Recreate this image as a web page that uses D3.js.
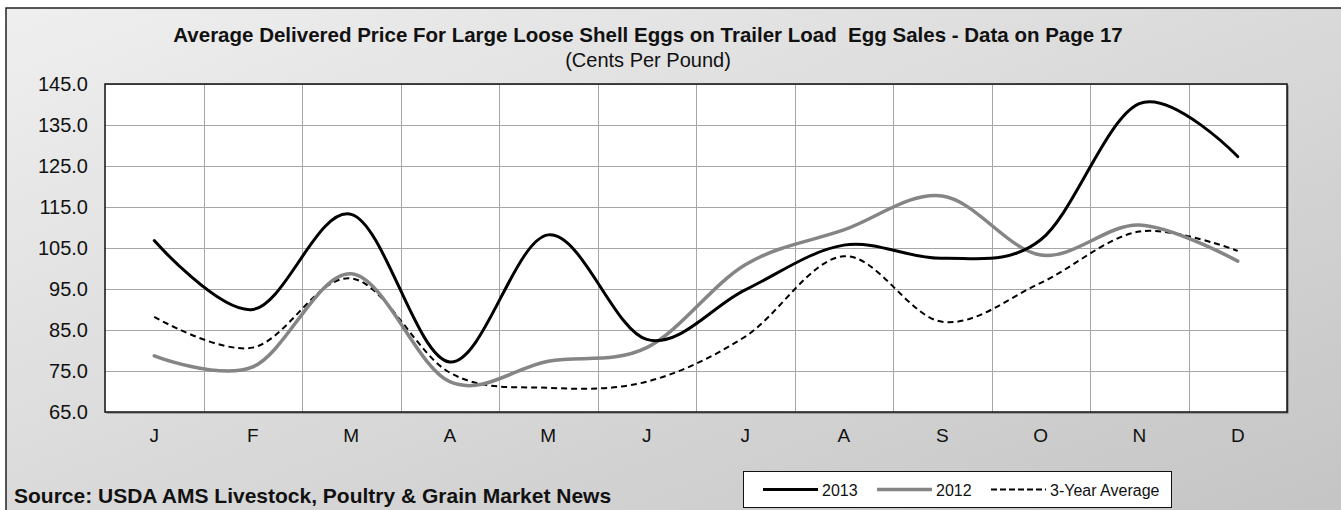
<!DOCTYPE html>
<html>
<head>
<meta charset="utf-8" />
<title>Average Delivered Price - Large Loose Shell Eggs</title>
<script src="https://cdnjs.cloudflare.com/ajax/libs/d3/7.8.5/d3.min.js"></script>
<style>
  html, body { margin: 0; padding: 0; background: #fff; }
  svg { display: block; font-family: Arial, "Liberation Sans", sans-serif; }
</style>
</head>
<body>
<svg id="chart" width="1341" height="510"></svg>
<script>
// month letters (J, M, A repeat so the band scale uses the index)
var months = ["J", "F", "M", "A", "M", "J", "J", "A", "S", "O", "N", "D"];
var y2013 = [106.8, 90.0, 113.2, 77.2, 108.2, 82.7, 94.8, 105.7, 102.5, 107.0, 140.2, 127.3];
var y2012 = [78.7, 76.0, 98.7, 72.4, 77.4, 80.7, 100.9, 109.4, 117.7, 103.3, 110.6, 101.8];
var avg3yr = [88.2, 80.7, 97.6, 74.6, 70.9, 72.4, 83.4, 103.0, 87.0, 96.5, 109.0, 104.3];
var yTicks = [65, 75, 85, 95, 105, 115, 125, 135, 145];
var seriesNames = ["2013", "2012", "3-Year Average"];

var FONT = "Arial, 'Liberation Sans', sans-serif";
var svg = d3.select("#chart");

// chart area background, light grey gradient
var defs = svg.append("defs");
var grad = defs.append("linearGradient").attr("id", "bg")
    .attr("x1", "0%").attr("y1", "0%").attr("x2", "100%").attr("y2", "100%");
grad.append("stop").attr("offset", "0%").attr("stop-color", "#efefef");
grad.append("stop").attr("offset", "100%").attr("stop-color", "#c4c4c4");

svg.append("rect").attr("x", 6).attr("y", 8).attr("width", 1345).attr("height", 512)
    .attr("fill", "url(#bg)").attr("stroke", "#222").attr("stroke-width", 1.5);

var plot = { left: 105, right: 1287, top: 84, bottom: 412 };

var x = d3.scaleBand().domain(d3.range(months.length)).range([plot.left, plot.right]);
var y = d3.scaleLinear().domain([65, 145]).range([plot.bottom, plot.top]);

// plot shadow + white area
svg.append("rect").attr("x", plot.left + 1.5).attr("y", plot.top + 1.5)
    .attr("width", plot.right - plot.left).attr("height", plot.bottom - plot.top)
    .attr("fill", "#6a6a6a");
svg.append("rect").attr("x", plot.left).attr("y", plot.top)
    .attr("width", plot.right - plot.left).attr("height", plot.bottom - plot.top)
    .attr("fill", "#fff");

// horizontal gridlines
svg.append("g").attr("class", "grid-y")
  .selectAll("line").data(yTicks).enter().append("line")
    .attr("x1", plot.left).attr("x2", plot.right)
    .attr("y1", function(d){ return y(d) + 0.5; })
    .attr("y2", function(d){ return y(d) + 0.5; })
    .attr("stroke", "#a6a6a6").attr("stroke-width", 1);

// vertical gridlines at category boundaries
svg.append("g").attr("class", "grid-x")
  .selectAll("line").data(d3.range(1, months.length)).enter().append("line")
    .attr("x1", function(i){ return Math.round(x(i)) + 0.5; })
    .attr("x2", function(i){ return Math.round(x(i)) + 0.5; })
    .attr("y1", plot.top).attr("y2", plot.bottom)
    .attr("stroke", "#a6a6a6").attr("stroke-width", 1);

// plot border
svg.append("rect").attr("x", plot.left).attr("y", plot.top)
    .attr("width", plot.right - plot.left).attr("height", plot.bottom - plot.top)
    .attr("fill", "none").attr("stroke", "#111").attr("stroke-width", 1.5);

// y axis labels
var yAxis = d3.axisLeft(y).tickValues(yTicks).tickFormat(d3.format(".1f")).tickSize(0).tickPadding(17);
var yg = svg.append("g").attr("transform", "translate(" + plot.left + ",0)").call(yAxis);
yg.select(".domain").remove();
yg.selectAll("text").attr("font-size", 20).attr("fill", "#111").style("font-family", FONT);

// x axis labels
var xAxis = d3.axisBottom(x).tickFormat(function(i){ return months[i]; }).tickSize(0).tickPadding(17);
var xg = svg.append("g").attr("transform", "translate(0," + plot.bottom + ")").call(xAxis);
xg.select(".domain").remove();
xg.selectAll("text").attr("font-size", 19).attr("fill", "#111").style("font-family", FONT);

// lines
var line = d3.line()
    .x(function(d, i){ return x(i) + x.bandwidth() / 2; })
    .y(function(d){ return y(d); })
    .curve(d3.curveCardinal.tension(0));

svg.append("path").datum(avg3yr).attr("d", line)
    .attr("fill", "none").attr("stroke", "#000").attr("stroke-width", 2)
    .attr("stroke-dasharray", "6,4");
svg.append("path").datum(y2012).attr("d", line)
    .attr("fill", "none").attr("stroke", "#858585").attr("stroke-width", 3.5)
    .attr("stroke-linecap", "round");
svg.append("path").datum(y2013).attr("d", line)
    .attr("fill", "none").attr("stroke", "#000").attr("stroke-width", 3)
    .attr("stroke-linecap", "round");

// titles
svg.append("text").attr("x", 648).attr("y", 42).attr("text-anchor", "middle")
    .attr("font-size", 20.5).attr("font-weight", "bold").attr("fill", "#111")
    .text("Average Delivered Price For Large Loose Shell Eggs on Trailer Load\u00a0\u00a0Egg Sales - Data on Page 17");
svg.append("text").attr("x", 648).attr("y", 67).attr("text-anchor", "middle")
    .attr("font-size", 20).attr("fill", "#111")
    .text("(Cents Per Pound)");

// source note
svg.append("text").attr("x", 14).attr("y", 503)
    .attr("font-size", 21).attr("font-weight", "bold").attr("fill", "#111")
    .text("Source: USDA AMS Livestock, Poultry & Grain Market News");

// legend
var lg = svg.append("g").attr("class", "legend");
lg.append("rect").attr("x", 743.5).attr("y", 471.5).attr("width", 428).attr("height", 36)
    .attr("fill", "#fff").attr("stroke", "#111").attr("stroke-width", 1);
var legX = [763, 877, 991];
var legStroke = ["#000", "#858585", "#000"];
var legWidth = [3, 3.5, 2];
var legDash = [null, null, "6,3"];
seriesNames.forEach(function(name, k){
  lg.append("line").attr("x1", legX[k]).attr("x2", legX[k] + 55)
      .attr("y1", 489.5).attr("y2", 489.5)
      .attr("stroke", legStroke[k]).attr("stroke-width", legWidth[k])
      .attr("stroke-dasharray", legDash[k]);
  lg.append("text").attr("x", legX[k] + 59).attr("y", 495.5)
      .attr("font-size", 16).attr("fill", "#111").text(name);
});
</script>
</body>
</html>
